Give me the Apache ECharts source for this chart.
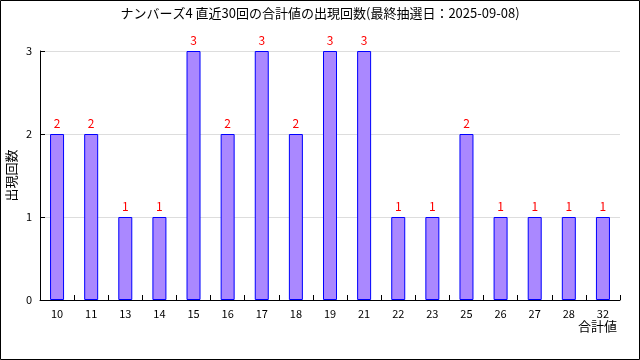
<!DOCTYPE html>
<html><head><meta charset="utf-8">
<script src="https://cdn.jsdelivr.net/npm/echarts@6/dist/echarts.min.js"></script>
<style>html,body{margin:0;padding:0;background:#fff}#c{width:640px;height:360px}</style>
</head><body><div id="c"></div>
<script>
const titleText = 'ナンバーズ4 直近30回の合計値の出現回数(最終抽選日：2025-09-08)';
const categories = ['10','11','13','14','15','16','17','18','19','21','22','23','25','26','27','28','32'];
const counts = [2,2,1,1,3,2,3,2,3,3,1,1,2,1,1,1,1];
const yTicks = [0,1,2,3];
const font = '"Noto Sans CJK JP", "DejaVu Sans Mono", sans-serif';
const chart = echarts.init(document.getElementById('c'), null, {renderer:'canvas'});
chart.setOption({
  animation:false,
  backgroundColor:'#fff',
  title:{text:titleText,left:'center',top:2,textStyle:{fontSize:13,fontWeight:'normal',color:'#000',fontFamily:font}},
  grid:{left:40,right:20,top:51,bottom:60,containLabel:false,outerBoundsMode:'none'},
  xAxis:{type:'category',data:categories,
    axisLine:{show:true,onZero:false,lineStyle:{color:'#000'}},
    axisTick:{show:true,inside:true,length:5,interval:0,lineStyle:{color:'#000',width:1}},
    axisLabel:{color:'#000',fontSize:11,margin:8,interval:0,fontFamily:font},
    name:'合計値',nameLocation:'end',nameGap:0,nameMoveOverlap:false,
    nameTextStyle:{color:'#000',fontSize:13,align:'right',verticalAlign:'top',padding:[20,3,0,0],fontFamily:font}},
  yAxis:{type:'value',min:yTicks[0],max:yTicks[yTicks.length-1],interval:1,
    axisLine:{show:true,lineStyle:{color:'#000'}},
    axisTick:{show:true,inside:true,length:5,lineStyle:{color:'#000'}},
    axisLabel:{color:'#000',fontSize:11,margin:8,fontFamily:font},
    splitLine:{lineStyle:{color:'#dddddd'}},
    name:'出現回数',nameLocation:'middle',nameRotate:90,nameGap:22,nameMoveOverlap:false,
    nameTextStyle:{color:'#000',fontSize:13,fontFamily:font}},
  series:[{type:'bar',data:counts,barWidth:14,
    itemStyle:{color:'#aa88ff',borderColor:'#0000ff',borderWidth:1},
    label:{show:true,position:'top',color:'#ff0000',fontSize:12,distance:5,fontFamily:font}}],
  graphic:[{type:'rect',shape:{x:0.5,y:0.5,width:639,height:359},style:{fill:null,stroke:'#000',lineWidth:1},silent:true}]
});
</script></body></html>
